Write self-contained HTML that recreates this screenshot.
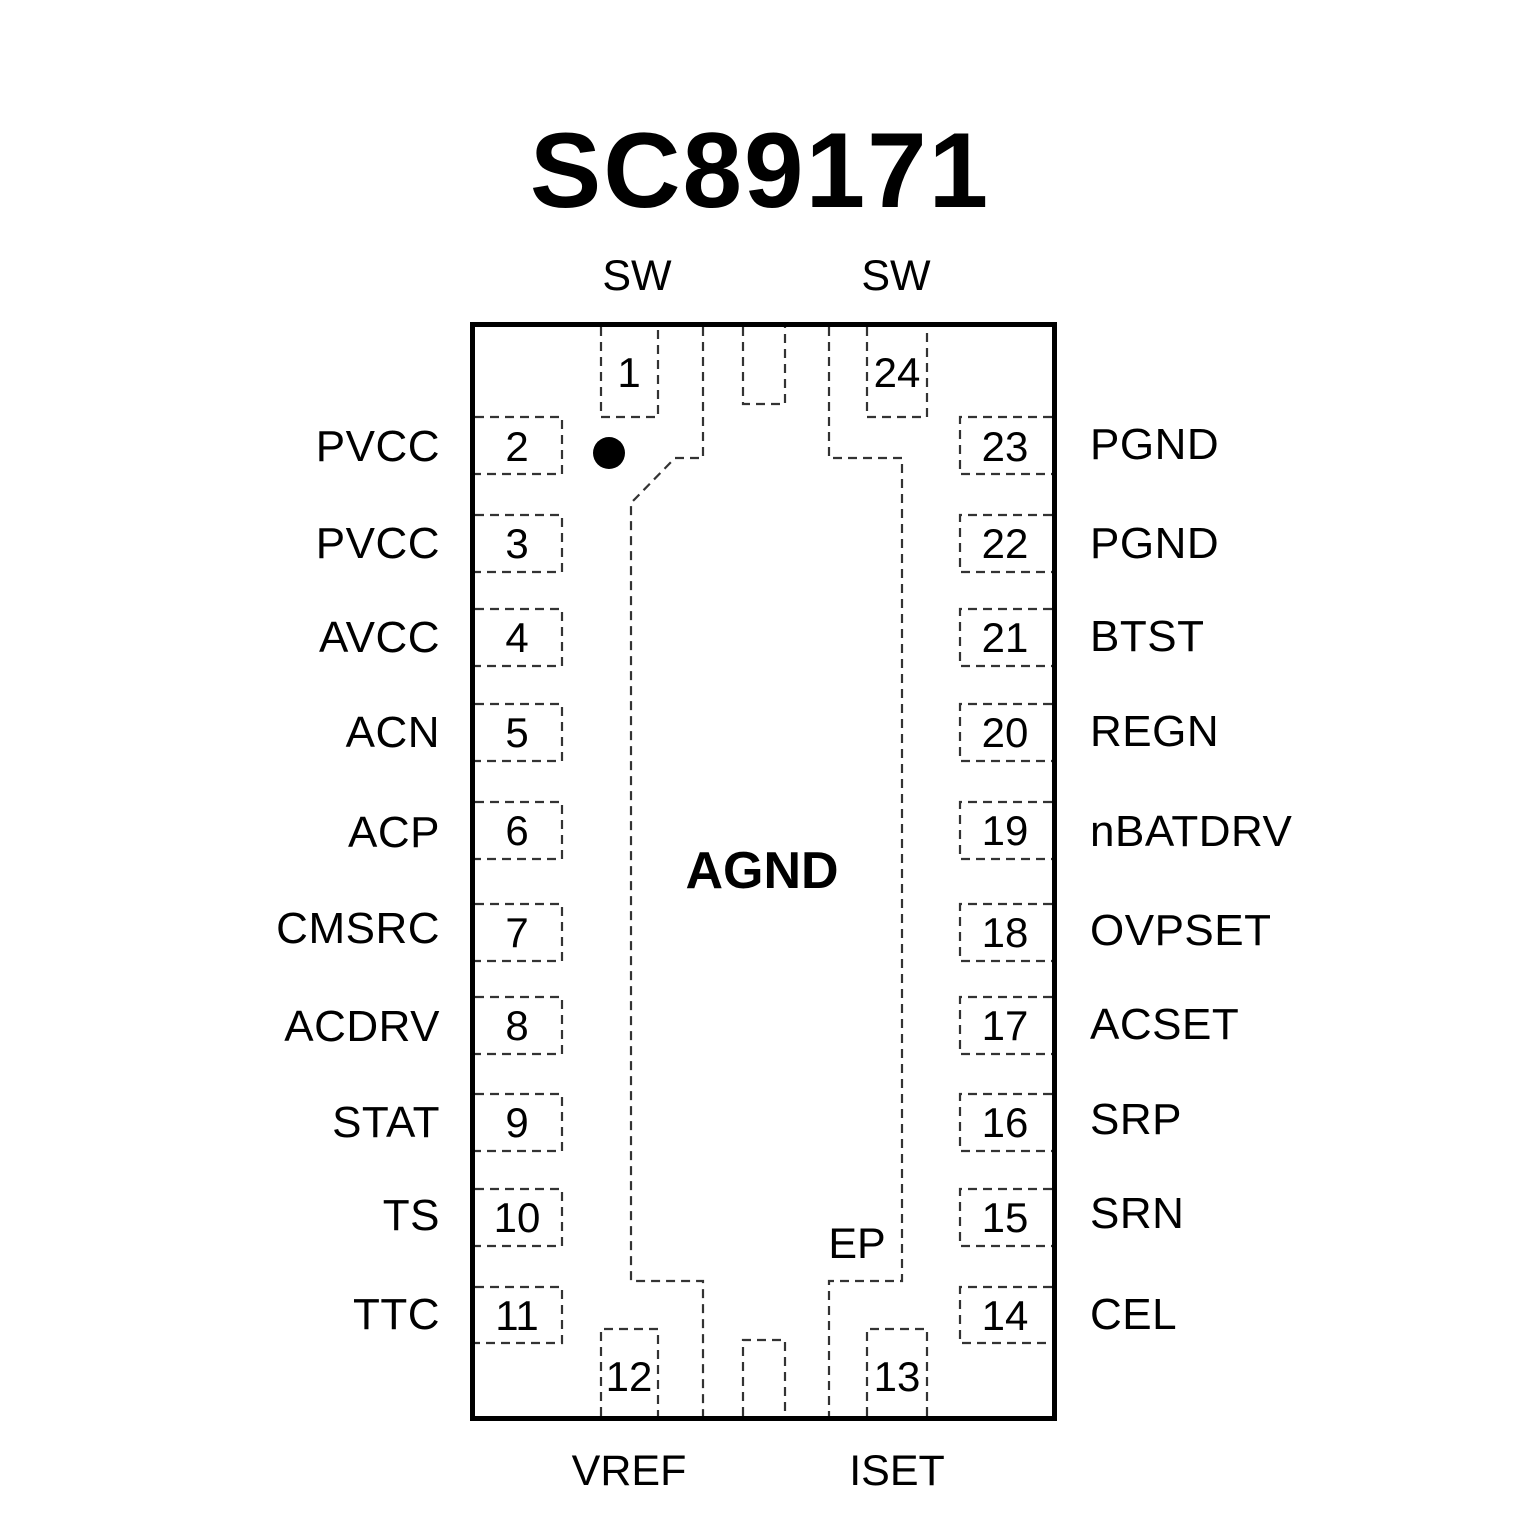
<!DOCTYPE html>
<html><head><style>
html,body{margin:0;padding:0;background:#fff;}
svg text{font-family:"Liberation Sans",Arial,sans-serif;fill:#000;}
</style></head><body>
<svg width="1535" height="1535" viewBox="0 0 1535 1535" xmlns="http://www.w3.org/2000/svg">
<text x="760" y="207" font-size="107" font-weight="bold" text-anchor="middle" letter-spacing="2">SC89171</text>
<rect x="472.5" y="324.5" width="582" height="1094" fill="none" stroke="#000" stroke-width="5"/>
<g fill="none" stroke="#333" stroke-width="2.2" stroke-dasharray="9,6">
<polyline points="601,327 601,417 658,417 658,327"/>
<polyline points="743,327 743,404 785,404 785,327"/>
<polyline points="867,327 867,417 927,417 927,327"/>
<polyline points="601,1416 601,1329 658,1329 658,1416"/>
<polyline points="743,1416 743,1340 785,1340 785,1416"/>
<polyline points="867,1416 867,1329 927,1329 927,1416"/>
<polyline points="703,327 703,458 675,458 631,503 631,1281 703,1281 703,1416"/>
<polyline points="829,327 829,458 902,458 902,1281 829,1281 829,1416"/>
<polyline points="475,417 562,417 562,474 475,474"/>
<polyline points="475,515 562,515 562,572 475,572"/>
<polyline points="475,609 562,609 562,666 475,666"/>
<polyline points="475,704 562,704 562,761 475,761"/>
<polyline points="475,802 562,802 562,859 475,859"/>
<polyline points="475,904 562,904 562,961 475,961"/>
<polyline points="475,997 562,997 562,1054 475,1054"/>
<polyline points="475,1094 562,1094 562,1151 475,1151"/>
<polyline points="475,1189 562,1189 562,1246 475,1246"/>
<polyline points="475,1287 562,1287 562,1343 475,1343"/>
<polyline points="1052,417 960,417 960,474 1052,474"/>
<polyline points="1052,515 960,515 960,572 1052,572"/>
<polyline points="1052,609 960,609 960,666 1052,666"/>
<polyline points="1052,704 960,704 960,761 1052,761"/>
<polyline points="1052,802 960,802 960,859 1052,859"/>
<polyline points="1052,904 960,904 960,961 1052,961"/>
<polyline points="1052,997 960,997 960,1054 1052,1054"/>
<polyline points="1052,1094 960,1094 960,1151 1052,1151"/>
<polyline points="1052,1189 960,1189 960,1246 1052,1246"/>
<polyline points="1052,1287 960,1287 960,1343 1052,1343"/>
</g>
<circle cx="609" cy="453" r="16" fill="#000"/>
<g font-size="43" text-anchor="middle">
<text x="637" y="290">SW</text>
<text x="896" y="290">SW</text>
<text x="629" y="1485">VREF</text>
<text x="897" y="1485">ISET</text>
</g>
<g font-size="42" text-anchor="middle">
<text x="629" y="387">1</text>
<text x="897" y="387">24</text>
<text x="629" y="1391">12</text>
<text x="897" y="1391">13</text>
<text x="517" y="461">2</text>
<text x="517" y="558">3</text>
<text x="517" y="652">4</text>
<text x="517" y="747">5</text>
<text x="517" y="845">6</text>
<text x="517" y="947">7</text>
<text x="517" y="1040">8</text>
<text x="517" y="1137">9</text>
<text x="517" y="1232">10</text>
<text x="517" y="1330">11</text>
<text x="1005" y="461">23</text>
<text x="1005" y="558">22</text>
<text x="1005" y="652">21</text>
<text x="1005" y="747">20</text>
<text x="1005" y="845">19</text>
<text x="1005" y="947">18</text>
<text x="1005" y="1040">17</text>
<text x="1005" y="1137">16</text>
<text x="1005" y="1232">15</text>
<text x="1005" y="1330">14</text>
</g>
<g font-size="44" text-anchor="end" letter-spacing="0.5">
<text x="440" y="461">PVCC</text>
<text x="440" y="558">PVCC</text>
<text x="440" y="652">AVCC</text>
<text x="440" y="747">ACN</text>
<text x="440" y="847">ACP</text>
<text x="440" y="943">CMSRC</text>
<text x="440" y="1041">ACDRV</text>
<text x="440" y="1137">STAT</text>
<text x="440" y="1230">TS</text>
<text x="440" y="1329">TTC</text>
</g>
<g font-size="44" letter-spacing="0.5">
<text x="1090" y="459">PGND</text>
<text x="1090" y="558">PGND</text>
<text x="1090" y="651">BTST</text>
<text x="1090" y="746">REGN</text>
<text x="1090" y="846">nBATDRV</text>
<text x="1090" y="945">OVPSET</text>
<text x="1090" y="1039">ACSET</text>
<text x="1090" y="1134">SRP</text>
<text x="1090" y="1228">SRN</text>
<text x="1090" y="1329">CEL</text>
</g>
<text x="762" y="888" font-size="52" font-weight="bold" text-anchor="middle">AGND</text>
<text x="857" y="1258" font-size="43" text-anchor="middle">EP</text>
</svg>
</body></html>
